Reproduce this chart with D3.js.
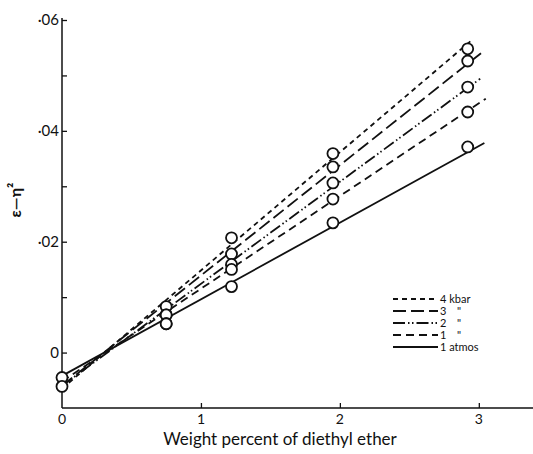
<!DOCTYPE html>
<html>
<head>
<meta charset="utf-8">
<script src="https://cdnjs.cloudflare.com/ajax/libs/d3/7.8.5/d3.min.js"></script>
<style>
  body { margin: 0; background: #fff; }
  text { font-family: Lato, "Open Sans", sans-serif; fill: #111; }
</style>
</head>
<body>
<div id="chart"></div>
<script>
'use strict';

// pressures, top line first
var seriesNames = ['4 kbar', '3 kbar', '2 kbar', '1 kbar', '1 atmos'];
var pointX = [0.75, 1.22, 1.95, 2.92];
// measured points, one row per series (value of epsilon - eta^2)
var pointY = [
  [0.0083, 0.0207, 0.0359, 0.0548],
  [0.0068, 0.0178, 0.0335, 0.0526],
  [0.0068, 0.0159, 0.0306, 0.0479],
  [0.0052, 0.0150, 0.0277, 0.0434],
  [0.0052, 0.0119, 0.0234, 0.0371]
];
// points at zero concentration
var zeroY = [-0.0045, -0.0061];
// fitted lines: start value at x=0, end x and end value
var lineStart = [-0.0065, -0.0060, -0.0060, -0.0052, -0.0042];
var lineEndX = [2.96, 3.02, 3.01, 3.05, 3.04];
var lineEnd = [0.0566, 0.0541, 0.0494, 0.0458, 0.0378];

var legendLabels = ['4 kbar', '3', '2', '1', '1 atmos'];
var legendDitto = [false, true, true, true, false];
var dashes = ['5,4', '13,5', '12,3,1.5,2.5,1.5,3', '8,5', null];

var yMajor = [0, 0.02, 0.04, 0.06];
var yMinor = [0.01, 0.03, 0.05];
var xTicks = [1, 2, 3];

var width = 533, height = 454;
var svg = d3.select('#chart').append('svg')
  .attr('width', width).attr('height', height);

var x = d3.scaleLinear().domain([0, 3.39]).range([62, 533]);
var y = d3.scaleLinear().domain([-0.01, 0.06]).range([408, 20]);

// axes
svg.append('line').attr('x1', x(0)).attr('x2', x(0))
  .attr('y1', y(0.06) - 2).attr('y2', y(-0.01))
  .attr('stroke', '#111').attr('stroke-width', 1.5);
svg.append('line').attr('x1', x(0)).attr('x2', width)
  .attr('y1', y(-0.01)).attr('y2', y(-0.01))
  .attr('stroke', '#111').attr('stroke-width', 1.5);

var yAxis = d3.axisRight(y).tickValues(yMajor.concat(yMinor))
  .tickSize(5).tickFormat('');
svg.append('g').attr('transform', 'translate(' + x(0) + ',0)').call(yAxis)
  .call(function(g) { g.select('.domain').remove(); })
  .selectAll('line').attr('stroke', '#111').attr('stroke-width', 1.3);

svg.append('g').selectAll('text').data(yMajor).enter().append('text')
  .attr('x', x(0) - 3).attr('y', function(d) { return y(d); })
  .attr('dy', '0.35em').attr('text-anchor', 'end')
  .style('font-size', '15px')
  .text(function(d) { return d === 0 ? '0' : '\u00b7' + d3.format('02d')(Math.round(d * 100)); });

var xAxis = d3.axisTop(x).tickValues(xTicks).tickSize(5).tickFormat('');
svg.append('g').attr('transform', 'translate(0,' + y(-0.01) + ')').call(xAxis)
  .call(function(g) { g.select('.domain').remove(); })
  .selectAll('line').attr('stroke', '#111').attr('stroke-width', 1.3);

svg.append('g').selectAll('text').data([0].concat(xTicks)).enter().append('text')
  .attr('x', function(d) { return x(d); }).attr('y', y(-0.01) + 16)
  .attr('text-anchor', 'middle').style('font-size', '14px')
  .text(function(d) { return d; });

// axis titles
svg.append('text').attr('x', 280).attr('y', 445).attr('text-anchor', 'middle')
  .style('font-size', '17px').text('Weight percent of diethyl ether');
svg.append('text').attr('transform', 'translate(21,200) rotate(-90)')
  .attr('text-anchor', 'middle').style('font-size', '16px')
  .style('font-weight', 'bold')
  .text('\u03b5\u2014\u03b7\u00b2');

// fitted lines
svg.append('g').selectAll('line').data(seriesNames).enter().append('line')
  .attr('x1', x(0)).attr('y1', function(d, i) { return y(lineStart[i]); })
  .attr('x2', function(d, i) { return x(lineEndX[i]); })
  .attr('y2', function(d, i) { return y(lineEnd[i]); })
  .attr('stroke', '#111').attr('stroke-width', 1.8)
  .attr('stroke-dasharray', function(d, i) { return dashes[i]; });

// points
var pts = [];
pointY.forEach(function(row) {
  row.forEach(function(v, j) { pts.push([pointX[j], v]); });
});
zeroY.forEach(function(v) { pts.push([0, v]); });
svg.append('g').selectAll('circle').data(pts).enter().append('circle')
  .attr('cx', function(d) { return x(d[0]); })
  .attr('cy', function(d) { return y(d[1]); })
  .attr('r', 5.5).attr('fill', '#fff')
  .attr('stroke', '#111').attr('stroke-width', 1.8);

// legend
var legend = svg.append('g').selectAll('g').data(legendLabels).enter().append('g')
  .attr('transform', function(d, i) { return 'translate(393,' + (299 + i * 12) + ')'; });
legend.append('line').attr('x1', 0).attr('x2', 45).attr('y1', 0).attr('y2', 0)
  .attr('stroke', '#111').attr('stroke-width', 1.8)
  .attr('stroke-dasharray', function(d, i) { return dashes[i]; });
legend.append('text').attr('x', 47).attr('dy', '0.35em')
  .style('font-size', '11px').text(function(d) { return d; });
legend.filter(function(d, i) { return legendDitto[i]; }).append('text')
  .attr('x', 64).attr('dy', '0.35em').style('font-size', '11px').text('"');
</script>
</body>
</html>
